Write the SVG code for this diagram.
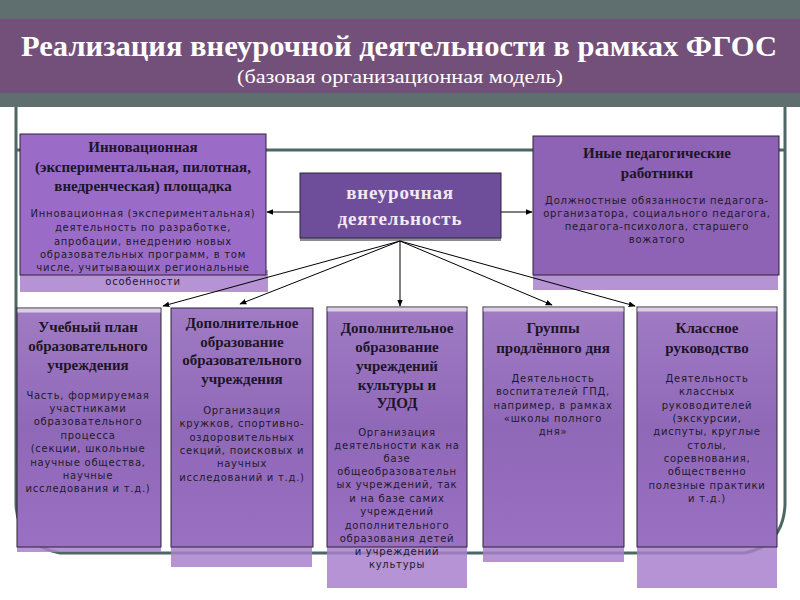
<svg xmlns="http://www.w3.org/2000/svg" width="800" height="600" viewBox="0 0 800 600">
<defs>
<style>
.ttl{font-family:"Liberation Serif",serif;font-weight:bold;fill:#1c1526;text-anchor:middle;font-size:15px}
.bd{font-family:"DejaVu Sans","Liberation Sans",sans-serif;fill:#1e1a2a;text-anchor:middle;font-size:10px;letter-spacing:0.75px}
.box{stroke:#2a2436;stroke-width:1}
.ext{fill:#a880cc;fill-opacity:0.85}
.con{stroke:#000;stroke-width:1;fill:none;marker-end:url(#ah)}
</style>
<linearGradient id="bg" x1="0" y1="0" x2="0" y2="1">
<stop offset="0" stop-color="#a07cc4"/>
<stop offset="0.5" stop-color="#9068b8"/>
<stop offset="1" stop-color="#9a70c2"/>
</linearGradient>
<marker id="ah" viewBox="0 0 10 10" refX="9" refY="5" markerWidth="7" markerHeight="7" orient="auto" markerUnits="userSpaceOnUse">
<path d="M0,1 L10,5 L0,9 Z" fill="#000"/>
</marker>
</defs>
<rect width="800" height="600" fill="#ffffff"/>
<g id="header">
<rect x="0" y="0" width="800" height="107" fill="#5f6e6e"/>
<rect x="0" y="19" width="800" height="74" fill="#735079"/>
<text x="399" y="56" font-family="Liberation Serif,serif" font-weight="bold" font-size="30" fill="#ffffff" text-anchor="middle" textLength="756" lengthAdjust="spacingAndGlyphs">Реализация внеурочной деятельности в рамках ФГОС</text>
<text x="400" y="83" font-family="Liberation Serif,serif" font-size="19" fill="#ffffff" text-anchor="middle" textLength="326" lengthAdjust="spacingAndGlyphs">(базовая организационная модель)</text>
</g>
<g id="frame" fill="none" stroke="#4d6666" stroke-width="3">
<path d="M16,107 L16,505 Q18,545 60,553 L745,553 Q783,545 785,505 L785,107"/>
<line x1="16" y1="150" x2="785" y2="150"/>
</g>
<g id="n-innov">
<rect class="ext" x="20" y="270" width="248" height="22"/>
<rect class="box" x="20" y="134" width="246" height="141" fill="#9a6cc8"/>
<text class="ttl"><tspan x="143" y="152">Инновационная</tspan><tspan x="143" y="172">(экспериментальная, пилотная,</tspan><tspan x="143" y="191">внедренческая) площадка</tspan></text>
<text class="bd" font-size="10.5" letter-spacing="0.95"><tspan x="143" y="217">Инновационная (экспериментальная)</tspan><tspan x="143" y="231">деятельность по разработке,</tspan><tspan x="143" y="245">апробации, внедрению новых</tspan><tspan x="143" y="258">образовательных программ, в том</tspan><tspan x="143" y="271">числе, учитывающих региональные</tspan><tspan x="143" y="285">особенности</tspan></text>
</g>
<g id="n-center">
<rect x="300" y="236" width="201" height="5" fill="#8c8c98"/>
<rect class="box" x="300" y="173" width="201" height="65" fill="#6e4e9a"/>
<text font-family="Liberation Serif,serif" font-weight="bold" font-size="19" fill="#f2eaf2" text-anchor="middle" letter-spacing="0.8"><tspan x="400" y="199">внеурочная</tspan><tspan x="400" y="225">деятельность</tspan></text>
</g>
<g id="n-other">
<rect class="ext" x="533" y="270" width="245" height="20"/>
<rect class="box" x="533" y="136" width="246" height="139" fill="#8e62b5"/>
<text class="ttl"><tspan x="657" y="158">Иные педагогические</tspan><tspan x="657" y="178">работники</tspan></text>
<text class="bd"><tspan x="657" y="204">Должностные обязанности педагога-</tspan><tspan x="657" y="217">организатора, социального педагога,</tspan><tspan x="657" y="230">педагога-психолога, старшего</tspan><tspan x="657" y="243">вожатого</tspan></text>
</g>
<g id="n-plan">
<rect class="ext" x="17" y="545" width="144" height="7"/>
<rect class="box" x="17" y="308" width="144" height="239" fill="url(#bg)"/>
<rect x="17.5" y="308.5" width="143" height="4" fill="#d8d0e0"/>
<text class="ttl"><tspan x="88" y="332">Учебный план</tspan><tspan x="88" y="351">образовательного</tspan><tspan x="88" y="370">учреждения</tspan></text>
<text class="bd"><tspan x="88" y="399">Часть, формируемая</tspan><tspan x="88" y="412">участниками</tspan><tspan x="88" y="425">образовательного</tspan><tspan x="88" y="439">процесса</tspan><tspan x="88" y="452">(секции, школьные</tspan><tspan x="88" y="466">научные общества,</tspan><tspan x="88" y="479">научные</tspan><tspan x="88" y="492">исследования и т.д.)</tspan></text>
</g>
<g id="n-dop-ou">
<rect class="ext" x="171" y="545" width="141" height="22"/>
<rect class="box" x="171" y="308" width="142" height="239" fill="url(#bg)"/>
<text class="ttl"><tspan x="242" y="328">Дополнительное</tspan><tspan x="242" y="347">образование</tspan><tspan x="242" y="365">образовательного</tspan><tspan x="242" y="384">учреждения</tspan></text>
<text class="bd"><tspan x="242" y="414">Организация</tspan><tspan x="242" y="427">кружков, спортивно-</tspan><tspan x="242" y="441">оздоровительных</tspan><tspan x="242" y="454">секций, поисковых и</tspan><tspan x="242" y="467">научных</tspan><tspan x="242" y="481">исследований и т.д.)</tspan></text>
</g>
<g id="n-dop-udod">
<rect class="ext" x="327" y="545" width="140" height="43"/>
<rect class="box" x="327" y="307" width="140" height="240" fill="url(#bg)"/>
<rect x="327.5" y="307.5" width="139" height="4" fill="#d8d0e0"/>
<text class="ttl"><tspan x="397" y="333">Дополнительное</tspan><tspan x="397" y="352">образование</tspan><tspan x="397" y="371">учреждений</tspan><tspan x="397" y="390">культуры и</tspan><tspan x="397" y="408">УДОД</tspan></text>
<text class="bd"><tspan x="397" y="436">Организация</tspan><tspan x="397" y="449">деятельности как на</tspan><tspan x="397" y="462">базе</tspan><tspan x="397" y="475">общеобразовательн</tspan><tspan x="397" y="488">ых учреждений, так</tspan><tspan x="397" y="502">и на базе самих</tspan><tspan x="397" y="515">учреждений</tspan><tspan x="397" y="529">дополнительного</tspan><tspan x="397" y="542">образования детей</tspan><tspan x="397" y="555">и учреждений</tspan><tspan x="397" y="568">культуры</tspan></text>
</g>
<g id="n-gpd">
<rect class="ext" x="483" y="545" width="141" height="17"/>
<rect class="box" x="483" y="307" width="141" height="240" fill="url(#bg)"/>
<rect x="483.5" y="307.5" width="140" height="4" fill="#d8d0e0"/>
<text class="ttl"><tspan x="553" y="333">Группы</tspan><tspan x="553" y="353">продлённого дня</tspan></text>
<text class="bd"><tspan x="553" y="382">Деятельность</tspan><tspan x="553" y="395">воспитателей ГПД,</tspan><tspan x="553" y="409">например, в рамках</tspan><tspan x="553" y="422">«школы полного</tspan><tspan x="553" y="435">дня»</tspan></text>
</g>
<g id="n-class">
<rect class="ext" x="637" y="545" width="140" height="43"/>
<rect class="box" x="637" y="307" width="140" height="240" fill="url(#bg)"/>
<rect x="637.5" y="307.5" width="139" height="4" fill="#d8d0e0"/>
<text class="ttl"><tspan x="707" y="333">Классное</tspan><tspan x="707" y="353">руководство</tspan></text>
<text class="bd"><tspan x="707" y="382">Деятельность</tspan><tspan x="707" y="395">классных</tspan><tspan x="707" y="409">руководителей</tspan><tspan x="707" y="422">(экскурсии,</tspan><tspan x="707" y="435">диспуты, круглые</tspan><tspan x="707" y="449">столы,</tspan><tspan x="707" y="462">соревнования,</tspan><tspan x="707" y="475">общественно</tspan><tspan x="707" y="489">полезные практики</tspan><tspan x="707" y="502">и т.д.)</tspan></text>
</g>
<g id="connectors">
<line class="con" x1="300" y1="212" x2="267" y2="212"/>
<line class="con" x1="501" y1="212" x2="532" y2="212"/>
<line class="con" x1="400" y1="241" x2="163" y2="306"/>
<line class="con" x1="400" y1="241" x2="240" y2="304"/>
<line class="con" x1="400" y1="241" x2="400" y2="306"/>
<line class="con" x1="400" y1="241" x2="552" y2="305"/>
<line class="con" x1="400" y1="241" x2="635" y2="306"/>
</g>
</svg>
